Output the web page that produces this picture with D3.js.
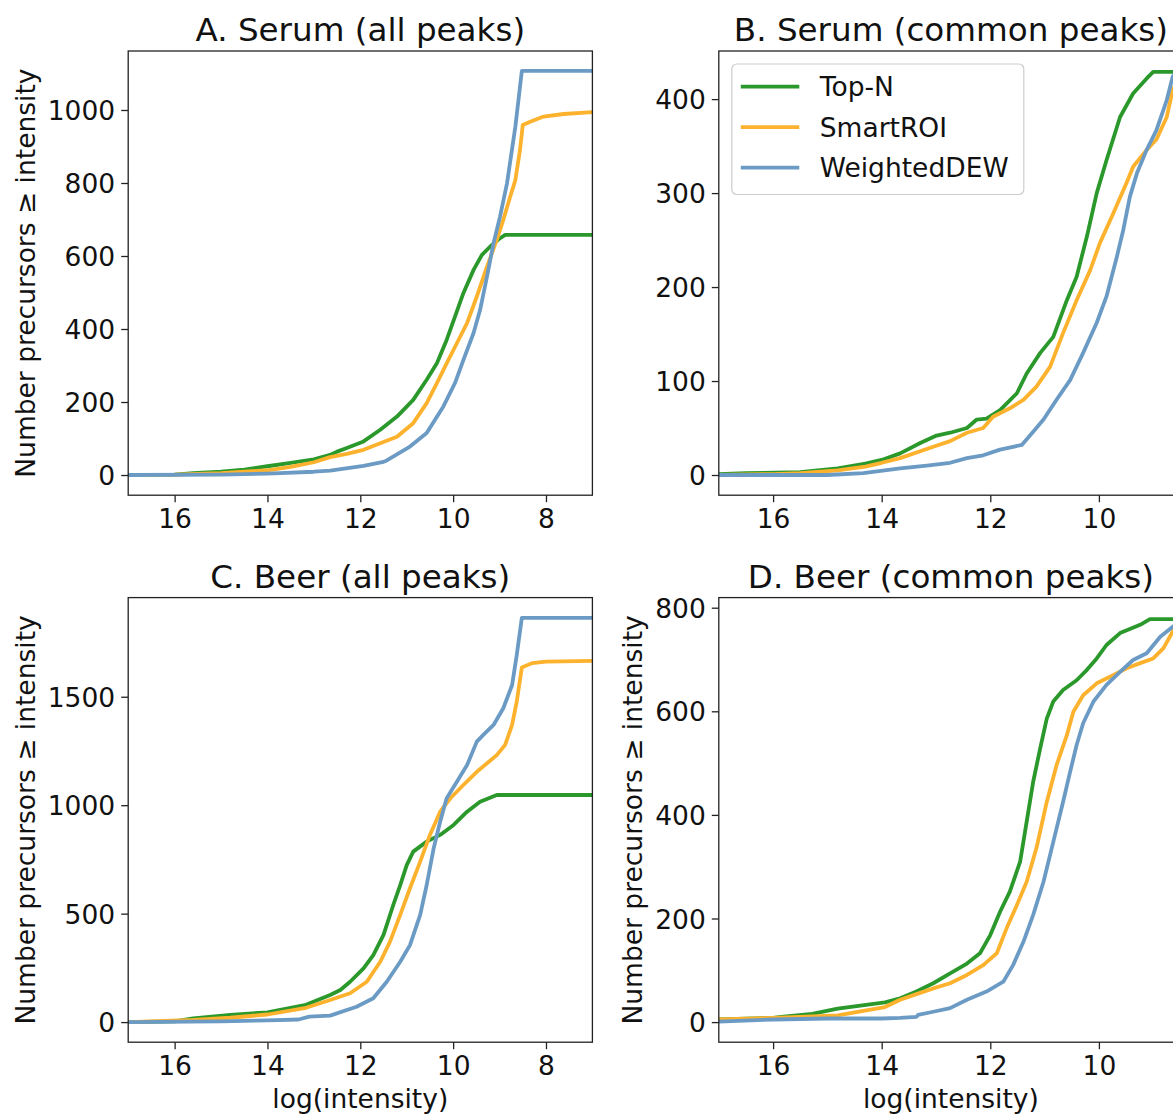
<!DOCTYPE html>
<html>
<head>
<meta charset="utf-8">
<script src="https://cdn.jsdelivr.net/npm/d3@7"></script>
<style>
html, body { margin: 0; padding: 0; background: #fff; }
svg { display: block; font-family: "DejaVu Sans", sans-serif; }
</style>
</head>
<body>
<svg id="chart" width="1173" height="1115"></svg>
<script>
// ---------- data ----------
const seriesNames = ["Top-N", "SmartROI", "WeightedDEW"];
const panelTitles = ["A. Serum (all peaks)", "B. Serum (common peaks)", "C. Beer (all peaks)", "D. Beer (common peaks)"];
const xLabel = "log(intensity)";
const yLabel = "Number precursors \u2265 intensity";

const xTicksAll = [16, 14, 12, 10, 8];
const xTicksCommon = [16, 14, 12, 10];
const yTicksSerumAll = [0, 200, 400, 600, 800, 1000];
const yTicksSerumCommon = [0, 100, 200, 300, 400];
const yTicksBeerAll = [0, 500, 1000, 1500];
const yTicksBeerCommon = [0, 200, 400, 600, 800];

// [log(intensity), number of precursors >= intensity]
const serumAllTopN = [[17,0],[16,1],[15.6,5],[15,9],[14.5,15],[14,24],[13.5,33],[13,43],[12.65,55],[12.5,64],[12.29,74],[11.93,92],[11.57,124],[11.21,160],[10.86,206],[10.57,261],[10.35,306],[10.14,370],[9.96,434],[9.78,498],[9.56,562],[9.38,603],[9.2,626],[9.02,646],[8.88,658],[7,658]];
const serumAllSmartROI = [[17,0],[16,1],[15,5],[14,13],[13.5,22],[13,35],[12.65,49],[12.29,58],[11.93,69],[11.57,87],[11.21,105],[10.86,142],[10.57,197],[10.35,252],[10.14,306],[9.92,361],[9.7,416],[9.49,489],[9.27,571],[9.06,644],[8.92,699],[8.77,763],[8.66,808],[8.56,890],[8.5,959],[8.34,968],[8.05,982],[7.62,989],[7,994]];
const serumAllWeightedDEW = [[17,0],[15,1],[14,4],[13,9],[12.65,12],[11.93,25],[11.5,36],[11.43,40],[10.93,78],[10.57,115],[10.21,188],[9.96,252],[9.78,315],[9.56,389],[9.42,452],[9.27,544],[9.13,635],[8.99,708],[8.84,799],[8.66,954],[8.52,1107],[7,1107]];

const serumCommonTopN = [[17,1],[16.5,2],[15.5,3],[14.81,7],[14.3,12],[14,16],[13.66,23],[13.29,34],[12.99,42],[12.74,45],[12.43,50],[12.25,59],[12.07,60],[11.82,69],[11.51,87],[11.33,108],[11.08,130],[10.84,147],[10.59,186],[10.41,211],[10.22,254],[10.04,300],[9.86,335],[9.61,381],[9.37,406],[9.12,422],[9.0,429],[8.45,429]];
const serumCommonSmartROI = [[17,0],[16,1],[15.5,2],[14.81,5],[14.3,9],[14,13],[13.66,18],[13.05,30],[12.74,36],[12.43,45],[12.13,50],[11.95,62],[11.64,71],[11.39,80],[11.15,94],[10.9,115],[10.66,151],[10.41,186],[10.16,218],[9.98,247],[9.73,279],[9.49,311],[9.37,328],[9.12,346],[8.94,357],[8.75,381],[8.64,410],[8.45,430]];
const serumCommonWeightedDEW = [[17,0],[15,0],[14.34,2],[13.66,7],[13.17,10],[12.74,13],[12.43,18],[12.13,21],[11.82,27],[11.58,30],[11.42,32],[11.21,46],[11.02,59],[10.78,80],[10.53,101],[10.29,130],[10.04,162],[9.86,190],[9.67,232],[9.55,261],[9.43,296],[9.3,321],[9.12,346],[8.94,367],[8.75,399],[8.64,424],[8.55,430],[8.45,430]];

const beerAllTopN = [[17,0],[16,3],[15.6,17],[14.8,33],[14,45],[13.17,80],[12.65,125],[12.43,148],[12.22,186],[11.93,248],[11.72,309],[11.5,402],[11.29,540],[11.14,632],[11.0,724],[10.86,786],[10.57,832],[10.28,863],[9.99,909],[9.7,970],[9.42,1016],[9.06,1047],[7,1047]];
const beerAllSmartROI = [[17,0],[15.6,10],[14.8,20],[14,35],[13.17,66],[12.65,102],[12.22,133],[11.86,186],[11.57,278],[11.36,371],[11.14,494],[10.93,617],[10.71,740],[10.5,863],[10.28,970],[10.06,1032],[9.78,1093],[9.49,1154],[9.27,1193],[9.06,1231],[8.88,1278],[8.73,1370],[8.63,1477],[8.52,1635],[8.3,1655],[8,1662],[7,1665]];
const beerAllWeightedDEW = [[17,0],[15,3],[14,8],[13.33,12],[13.1,25],[12.65,30],[12.08,71],[11.72,110],[11.43,186],[11.14,278],[10.93,355],[10.71,494],[10.57,632],[10.42,801],[10.28,924],[10.14,1032],[9.92,1108],[9.7,1185],[9.49,1293],[9.35,1324],[9.13,1370],[8.92,1447],[8.73,1554],[8.63,1692],[8.52,1864],[7,1864]];

const beerCommonTopN = [[17,5],[16,8],[15.85,10],[15.28,16],[14.81,26],[13.94,38],[13.66,46],[13.36,59],[13.05,75],[12.74,94],[12.43,113],[12.19,133],[12.0,168],[11.82,213],[11.64,252],[11.45,310],[11.33,387],[11.21,464],[11.08,529],[10.96,586],[10.84,619],[10.66,641],[10.41,660],[10.22,680],[10.04,702],[9.86,728],[9.61,751],[9.24,767],[9.06,778],[8.45,778]];
const beerCommonSmartROI = [[17,5],[16,8],[14.81,13],[13.94,29],[13.66,43],[13.36,54],[13.05,65],[12.74,75],[12.43,91],[12.13,110],[11.88,133],[11.7,181],[11.51,226],[11.33,271],[11.15,336],[10.96,425],[10.78,496],[10.59,554],[10.47,599],[10.29,631],[10.04,654],[9.73,670],[9.49,683],[9.24,693],[9.0,702],[8.81,722],[8.64,754],[8.45,778]];
const beerCommonWeightedDEW = [[17,1],[16,5],[15,7],[14,7],[13.66,8],[13.36,10],[13.33,14],[13.05,20],[12.74,27],[12.43,43],[12.07,59],[11.76,78],[11.58,110],[11.39,155],[11.21,207],[11.02,271],[10.84,348],[10.66,425],[10.53,483],[10.41,535],[10.29,577],[10.1,619],[9.86,651],[9.61,676],[9.37,699],[9.12,712],[8.87,744],[8.64,763],[8.45,778]];

// ---------- styling / layout ----------
const colors = ["#2a982a", "#fdb22e", "#6b9bc4"];
const FS = 26.5, TFS = 32.6;

const panels = [
  { title: panelTitles[0], series: [serumAllTopN, serumAllSmartROI, serumAllWeightedDEW],
    box: {l: 128.2, r: 592.4, t: 51, b: 495.2}, xDom: [17, 7], yDom: [-55.3, 1161.6],
    xTicks: xTicksAll, yTicks: yTicksSerumAll, ylab: true, xlab: false, legend: false },
  { title: panelTitles[1], series: [serumCommonTopN, serumCommonSmartROI, serumCommonWeightedDEW],
    box: {l: 718.8, r: 1183, t: 51, b: 495.2}, xDom: [17, 8.451], yDom: [-21.5, 451.2],
    xTicks: xTicksCommon, yTicks: yTicksSerumCommon, ylab: false, xlab: false, legend: true },
  { title: panelTitles[2], series: [beerAllTopN, beerAllSmartROI, beerAllWeightedDEW],
    box: {l: 128.2, r: 592.4, t: 597.6, b: 1042.2}, xDom: [17, 7], yDom: [-92.7, 1957.1],
    xTicks: xTicksAll, yTicks: yTicksBeerAll, ylab: true, xlab: true, legend: false },
  { title: panelTitles[3], series: [beerCommonTopN, beerCommonSmartROI, beerCommonWeightedDEW],
    box: {l: 718.8, r: 1183, t: 597.6, b: 1042.2}, xDom: [17, 8.451], yDom: [-38.8, 819.5],
    xTicks: xTicksCommon, yTicks: yTicksBeerCommon, ylab: true, xlab: true, legend: false }
];

const svg = d3.select("#chart");
const defs = svg.append("defs");

panels.forEach((p, i) => {
  const {l, r, t, b} = p.box;
  const x = d3.scaleLinear().domain(p.xDom).range([l, r]);
  const y = d3.scaleLinear().domain(p.yDom).range([b, t]);
  const g = svg.append("g");

  defs.append("clipPath").attr("id", "clip" + i)
    .append("rect").attr("x", l).attr("y", t).attr("width", r - l).attr("height", b - t);

  // lines
  const line = d3.line().x(d => x(d[0])).y(d => y(d[1]));
  const lg = g.append("g").attr("clip-path", `url(#clip${i})`);
  p.series.forEach((s, k) => {
    lg.append("path").datum(s).attr("d", line)
      .attr("fill", "none").attr("stroke", colors[k]).attr("stroke-width", 3.8)
      .attr("stroke-linejoin", "round").attr("stroke-linecap", "butt");
  });

  // axes
  const xa = g.append("g").attr("transform", `translate(0,${b})`)
    .call(d3.axisBottom(x).tickValues(p.xTicks).tickSize(7).tickPadding(5).tickFormat(d3.format("d")));
  const ya = g.append("g").attr("transform", `translate(${l},0)`)
    .call(d3.axisLeft(y).tickValues(p.yTicks).tickSize(7).tickPadding(6).tickFormat(d3.format("d")));
  [xa, ya].forEach(a => {
    a.select(".domain").remove();
    a.selectAll(".tick line").attr("stroke", "#222").attr("stroke-width", 1.3);
    a.selectAll(".tick text").attr("fill", "#111").style("font-size", FS + "px")
      .style("font-family", "'DejaVu Sans', sans-serif");
  });
  xa.selectAll(".tick text").attr("dy", null).attr("y", 33.3).attr("dominant-baseline", "auto");
  ya.selectAll(".tick text").attr("dy", "0.36em");

  // frame
  g.append("rect").attr("x", l).attr("y", t).attr("width", r - l).attr("height", b - t)
    .attr("fill", "none").attr("stroke", "#222").attr("stroke-width", 1.3);

  // title
  g.append("text").attr("x", (l + r) / 2).attr("y", t - 10).attr("text-anchor", "middle")
    .style("font-size", TFS + "px").attr("fill", "#111").text(p.title);

  if (p.xlab) {
    g.append("text").attr("x", (l + r) / 2).attr("y", b + 66).attr("text-anchor", "middle")
      .style("font-size", FS + "px").attr("fill", "#111").text(xLabel);
  }
  if (p.ylab) {
    const yx = l < 300 ? 34.5 : 642;
    g.append("text").attr("transform", `translate(${yx},${(t + b) / 2}) rotate(-90)`)
      .attr("text-anchor", "middle").style("font-size", FS + "px").attr("fill", "#111").text(yLabel);
  }

  if (p.legend) {
    const lgx = l + 13, lgy = t + 13;
    const leg = g.append("g");
    leg.append("rect").attr("x", lgx).attr("y", lgy).attr("width", 292).attr("height", 130.5)
      .attr("rx", 5).attr("fill", "#fff").attr("fill-opacity", 0.8)
      .attr("stroke", "#cccccc").attr("stroke-width", 1.2);
    seriesNames.forEach((n, k) => {
      const cy = lgy + 22.7 + k * 40.5;
      leg.append("line").attr("x1", lgx + 9).attr("x2", lgx + 67.5).attr("y1", cy).attr("y2", cy)
        .attr("stroke", colors[k]).attr("stroke-width", 3.8);
      leg.append("text").attr("x", lgx + 88).attr("y", cy).attr("dy", "0.36em")
        .style("font-size", FS + "px").attr("fill", "#111").text(n);
    });
  }
});
</script>
</body>
</html>
